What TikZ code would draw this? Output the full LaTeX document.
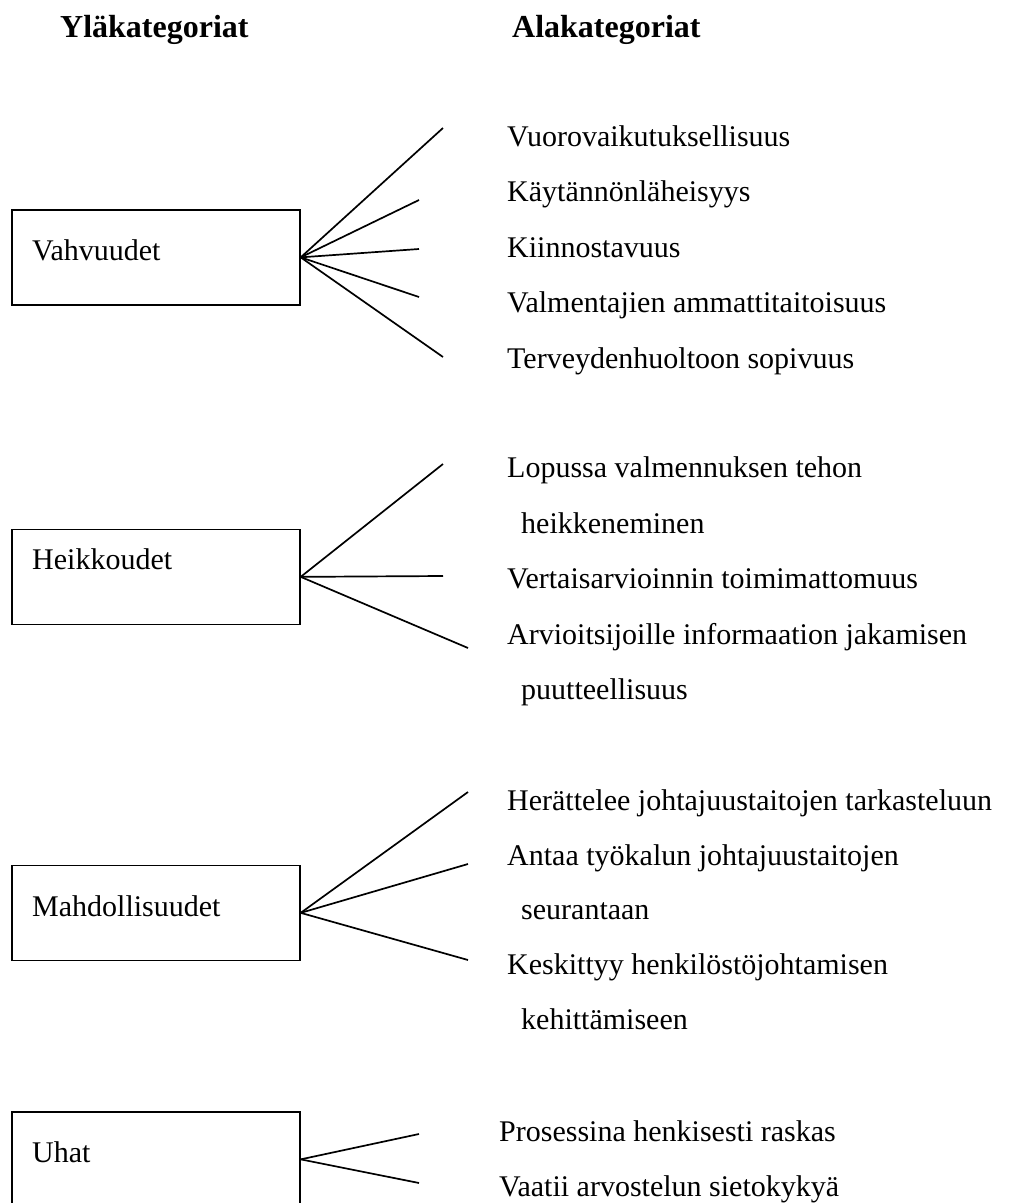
\documentclass[tikz,border=0pt]{standalone}
\usepackage{fontspec}
\setmainfont{Liberation Serif}
\begin{document}
\begin{tikzpicture}[x=1pt,y=-1pt,
  catbox/.style={draw, line width=1.7pt, minimum width=288pt, minimum height=95pt,
                 anchor=north west, inner sep=0pt},
  txt/.style={anchor=base west, inner sep=0pt, font=\fontsize{30}{36}\selectfont},
  head/.style={anchor=base west, inner sep=0pt, font=\fontsize{32}{38}\selectfont\bfseries},
  branch/.style={line width=1.7pt}]
\useasboundingbox (0,0) rectangle (1031,1203);
\clip (0,0) rectangle (1031,1203);

% column headings
\node[head] (hup) at (60,37) {Yläkategoriat};
\node[head] (hdown) at (512,37) {Alakategoriat};

% main category boxes
\node[catbox] (vahv) at (11,209) {};
\node[catbox] (heik) at (11,528.5) {};
\node[catbox] (mahd) at (11,864.5) {};
\node[catbox] (uhat) at (11,1111) {};
\node[txt] (vahvt) at (32,260) {Vahvuudet};
\node[txt] (heikt) at (32,569) {Heikkoudet};
\node[txt] (mahdt) at (32,916) {Mahdollisuudet};
\node[txt] (uhatt) at (32,1162) {Uhat};

% branch ends
\coordinate (v1) at (443,128);
\coordinate (v2) at (419,200);
\coordinate (v3) at (419,249);
\coordinate (v4) at (419,297);
\coordinate (v5) at (443,357);
\coordinate (h1) at (443,464);
\coordinate (h2) at (443,576);
\coordinate (h3) at (468,648);
\coordinate (m1) at (468,792);
\coordinate (m2) at (468,864);
\coordinate (m3) at (468,960);
\coordinate (u1) at (419,1134);
\coordinate (u2) at (419,1183);

\foreach \e in {v1,v2,v3,v4,v5} \draw[branch] (vahv.east) -- (\e);
\foreach \e in {h1,h2,h3} \draw[branch] (heik.east) -- (\e);
\foreach \e in {m1,m2,m3} \draw[branch] (mahd.east) -- (\e);
\foreach \e in {u1,u2} \draw[branch] (uhat.east) -- (\e);

% subcategories
\node[txt] (s1) at (507,146) {Vuorovaikutuksellisuus};
\node[txt] (s2) at (507,201) {Käytännönläheisyys};
\node[txt] (s3) at (507,257) {Kiinnostavuus};
\node[txt] (s4) at (507,312) {Valmentajien ammattitaitoisuus};
\node[txt] (s5) at (507,368) {Terveydenhuoltoon sopivuus};

\node[txt] (w1a) at (507,477) {Lopussa valmennuksen tehon};
\node[txt] (w1b) at (521,533) {heikkeneminen};
\node[txt] (w2) at (507,588) {Vertaisarvioinnin toimimattomuus};
\node[txt] (w3a) at (507,644) {Arvioitsijoille informaation jakamisen};
\node[txt] (w3b) at (521,699) {puutteellisuus};

\node[txt] (o1) at (507,810) {Herättelee johtajuustaitojen tarkasteluun};
\node[txt] (o2a) at (507,865) {Antaa työkalun johtajuustaitojen};
\node[txt] (o2b) at (521,919) {seurantaan};
\node[txt] (o3a) at (507,974) {Keskittyy henkilöstöjohtamisen};
\node[txt] (o3b) at (521,1029) {kehittämiseen};

\node[txt] (t1) at (499,1141) {Prosessina henkisesti raskas};
\node[txt] (t2) at (499,1196) {Vaatii arvostelun sietokykyä};
\end{tikzpicture}
\end{document}
